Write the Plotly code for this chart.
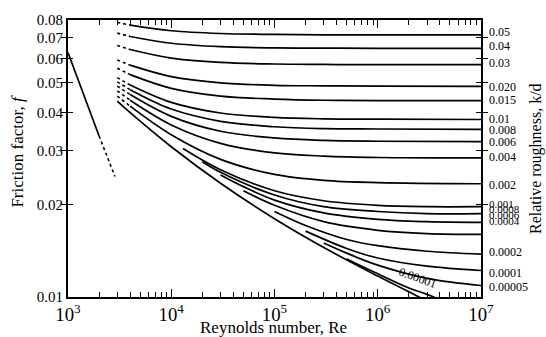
import plotly.graph_objects as go
import math

# Relative roughness k/d for each curve, as labelled on the right
rough_labels = ["0.05", "0.04", "0.03", "0.020", "0.015", "0.01", "0.008", "0.006", "0.004", "0.002"]

# Curves that start in the transition zone (Re = 3000 dotted, solid from 4000)
re_start = 3.0e3
re_grid = [4e3, 1e4, 3e4, 1e5, 3e5, 1e6, 1e7]
f_start = [0.0786, 0.0725, 0.0661, 0.0593, 0.0557, 0.0519, 0.0503, 0.0487, 0.0470, 0.0452]
f_rough = [
    [0.0770, 0.0738, 0.0723, 0.0718, 0.0716, 0.0716, 0.0716],
    [0.0707, 0.0672, 0.0655, 0.0649, 0.0648, 0.0647, 0.0647],
    [0.0641, 0.0601, 0.0582, 0.0575, 0.0573, 0.0572, 0.0572],
    [0.0570, 0.0523, 0.0499, 0.0490, 0.0488, 0.0487, 0.0486],
    [0.0531, 0.0479, 0.0452, 0.0442, 0.0438, 0.0437, 0.0437],
    [0.0491, 0.0431, 0.0398, 0.0385, 0.0381, 0.0380, 0.0379],
    [0.0474, 0.0410, 0.0374, 0.0359, 0.0354, 0.0353, 0.0352],
    [0.0457, 0.0388, 0.0347, 0.0330, 0.0324, 0.0322, 0.0321],
    [0.0438, 0.0364, 0.0317, 0.0295, 0.0288, 0.0285, 0.0284],
    [0.0419, 0.0338, 0.0281, 0.0251, 0.0240, 0.0236, 0.0234],
]

# Low-roughness curves branching off the smooth-pipe line
fine_labels = ["0.001", "0.0008", "0.0006", "0.0004", "0.0002", "0.0001", "0.00005", "0.00001"]
fine_re = [
    [1.3e4, 3e4, 1e5, 3e5, 1e6, 3e6, 1e7],
    [2e4, 3e4, 1e5, 3e5, 1e6, 3e6, 1e7],
    [3e4, 5e4, 1e5, 3e5, 1e6, 3e6, 1e7],
    [5e4, 1e5, 3e5, 1e6, 3e6, 1e7],
    [1e5, 2e5, 5e5, 1e6, 3e6, 1e7],
    [2e5, 5e5, 1e6, 3e6, 1e7],
    [3e5, 5e5, 1e6, 3e6, 1e7],
    [5e5, 1e6, 2e6, 3e6, 4e6],
]
fine_f = [
    [0.0305, 0.0260, 0.0222, 0.0206, 0.0199, 0.0197, 0.0197],
    [0.0276, 0.0255, 0.0215, 0.0197, 0.0190, 0.0187, 0.0187],
    [0.0250, 0.0229, 0.0207, 0.0188, 0.0179, 0.0176, 0.0175],
    [0.0222, 0.0199, 0.0176, 0.0165, 0.0161, 0.0160],
    [0.0190, 0.0171, 0.0154, 0.0147, 0.0141, 0.0138],
    [0.0164, 0.0144, 0.0134, 0.0126, 0.0122],
    [0.0150, 0.0139, 0.0127, 0.0115, 0.0109],
    [0.0133, 0.0119, 0.0107, 0.0102, 0.0098],
]

# Smooth pipe
smooth_re = [3e3, 4e3, 1e4, 3e4, 1e5, 3e5, 1e6, 2e6, 3e6]
smooth_f = [0.0435, 0.0399, 0.0309, 0.0235, 0.0180, 0.0145, 0.0117, 0.0104, 0.0097]

# Laminar flow line (solid, then dotted into the critical zone)
lam_re = [1e3, 2e3]
lam_f = [0.0626, 0.0335]
lam_dot_re = [2e3, 2.85e3]
lam_dot_f = [0.0335, 0.0247]

# Right-hand roughness labels and their vertical anchors (friction factor)
label_text = ["0.05", "0.04", "0.03", "0.020", "0.015", "0.01", "0.008", "0.006", "0.004",
              "0.002", "0.001", "0.0008", "0.0006", "0.0004", "0.0002", "0.0001", "0.00005"]
label_f = [0.0732, 0.0656, 0.0581, 0.0483, 0.0438, 0.0381, 0.0351, 0.0321, 0.0287,
           0.0231, 0.0201, 0.0193, 0.0185, 0.0177, 0.01406, 0.01195, 0.01077]
# Tightly stacked labels are set a little smaller
label_size = [12] * 10 + [11, 11, 11, 11] + [12, 12, 12]

# Friction-factor axis ticks
y_ticks = [0.01, 0.02, 0.03, 0.04, 0.05, 0.06, 0.07, 0.08]

SERIF = "Liberation Serif, Times New Roman, Times, serif"
LW = 1.7

fig = go.Figure()

def add_line(x, y, dash="solid", width=LW):
    fig.add_trace(go.Scatter(
        x=x, y=y, mode="lines",
        line=dict(color="black", width=width, dash=dash, shape="spline", smoothing=1.0),
        hoverinfo="skip", showlegend=False,
    ))

# Laminar
add_line(lam_re, lam_f)
add_line(lam_dot_re, lam_dot_f, dash="dot", width=1.6)

# Rough-pipe curves
for f0, row in zip(f_start, f_rough):
    add_line([re_start, re_grid[0]], [f0, row[0]], dash="dot", width=1.6)
    add_line(re_grid, row)

# Low roughness curves
for xs, ys in zip(fine_re, fine_f):
    add_line(xs, ys)

# Smooth pipe
add_line(smooth_re, smooth_f)

# Invisible trace on the top axis so its ticks are drawn
fig.add_trace(go.Scatter(x=[1e3, 1e7], y=[0.02, 0.02], xaxis="x2", mode="lines",
                         line=dict(width=0), hoverinfo="skip", showlegend=False))

annotations = []
for txt, fy, sz in zip(label_text, label_f, label_size):
    annotations.append(dict(
        x=1.0, xref="paper", xshift=6, xanchor="left",
        y=math.log10(fy), yref="y", yanchor="middle",
        text=txt, showarrow=False,
        font=dict(family=SERIF, size=sz, color="black"),
    ))

# Label written along the k/d = 0.00001 curve
annotations.append(dict(
    x=math.log10(2.45e6), xref="x", y=math.log10(0.01150), yref="y",
    text="0.00001", showarrow=False, textangle=20,
    font=dict(family=SERIF, size=12, color="black"),
))

# Axis titles
annotations.append(dict(
    x=-0.121, xref="paper", xanchor="center", y=0.525, yref="paper", yanchor="middle",
    text="Friction factor, <i>f</i>", showarrow=False, textangle=-90,
    font=dict(family=SERIF, size=17, color="black"),
))
annotations.append(dict(
    x=1.132, xref="paper", xanchor="center", y=0.50, yref="paper", yanchor="middle",
    text="Relative roughness, k/d", showarrow=False, textangle=-90,
    font=dict(family=SERIF, size=16, color="black"),
))
annotations.append(dict(
    x=0.497, xref="paper", xanchor="center", y=-0.111, yref="paper", yanchor="middle",
    text="Reynolds number, Re", showarrow=False,
    font=dict(family=SERIF, size=17, color="black"),
))

fig.update_layout(
    width=546, height=337,
    margin=dict(l=68, r=65, t=17, b=40),
    paper_bgcolor="white", plot_bgcolor="white",
    font=dict(family=SERIF, color="black"),
    annotations=annotations,
    showlegend=False,
    xaxis=dict(
        type="log", range=[3, 7], dtick=1, exponentformat="power",
        showgrid=False, zeroline=False,
        showline=True, linecolor="black", linewidth=2, mirror=True,
        ticks="inside", ticklen=8, tickwidth=1.3, tickcolor="black",
        minor=dict(ticks="inside", ticklen=5, tickwidth=1.2, tickcolor="black",
                   dtick="D1", showgrid=False),
        tickfont=dict(family=SERIF, size=15, color="black"),
    ),
    xaxis2=dict(
        type="log", range=[3, 7], dtick=1, overlaying="x", side="top",
        showgrid=False, zeroline=False, showticklabels=False, showline=False,
        ticks="inside", ticklen=8, tickwidth=1.3, tickcolor="black",
        minor=dict(ticks="inside", ticklen=5, tickwidth=1.2, tickcolor="black",
                   dtick="D1", showgrid=False),
    ),
    yaxis=dict(
        type="log", range=[-2, math.log10(0.08)],
        tickvals=y_ticks, ticktext=[f"{v:.2f}" for v in y_ticks],
        showgrid=False, zeroline=False,
        showline=True, linecolor="black", linewidth=2, mirror="allticks",
        ticks="inside", ticklen=5, tickwidth=1.3, tickcolor="black",
        tickfont=dict(family=SERIF, size=15, color="black"),
    ),
)

fig.write_html("out.html")
